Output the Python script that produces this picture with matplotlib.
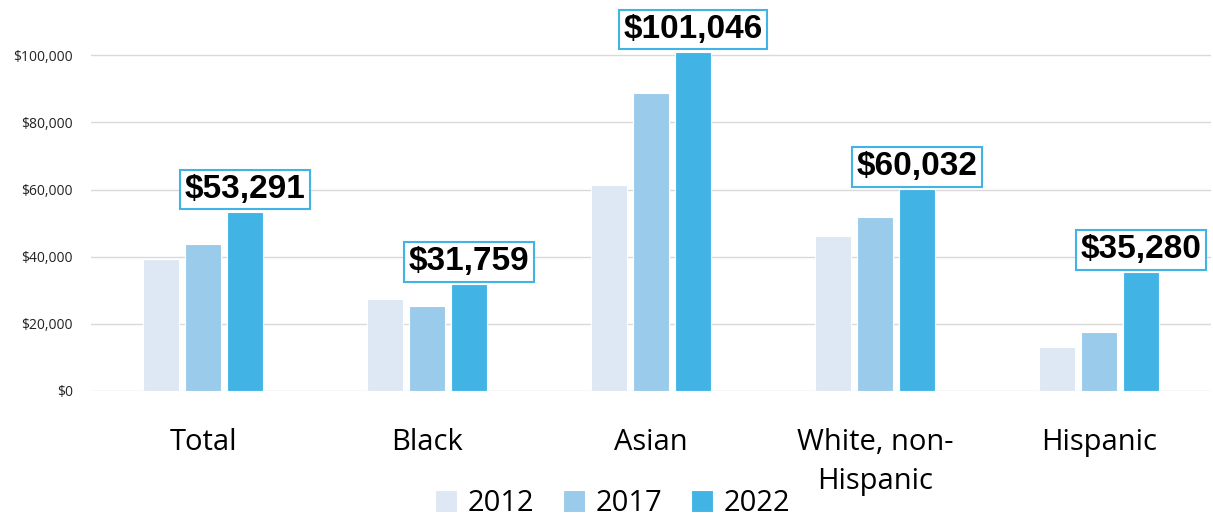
import numpy as np
import matplotlib.pyplot as plt
from matplotlib.ticker import FuncFormatter

categories = ["Total", "Black", "Asian", "White, non-\nHispanic", "Hispanic"]
years = ["2012", "2017", "2022"]
v2012 = [39200, 27500, 61300, 46100, 13000]
v2017 = [43900, 25300, 88800, 51800, 17500]
v2022 = [53291, 31759, 101046, 60032, 35280]
colors = ["#DDE8F4", "#9BCBEA", "#41B4E5"]

fig = plt.figure(figsize=(12.13, 5.21), dpi=100)
ax = fig.add_axes([91 / 1213, 0.25, 1120 / 1213, 0.708])

x = np.arange(len(categories))
w = 0.165
step = 0.1875
for i, (vals, c, yr) in enumerate(zip([v2012, v2017, v2022], colors, years)):
    ax.bar(x + (i - 1) * step, vals, w, color=c, edgecolor="white", linewidth=0.8, label=yr, zorder=3)

for xi, v in zip(x, v2022):
    ax.annotate("${:,}".format(v), xy=(xi + step, v), xytext=(0, 5), textcoords="offset points",
                ha="center", va="bottom", fontsize=24, fontweight="bold", family="Liberation Sans",
                bbox=dict(boxstyle="square,pad=0.13", fc="white", ec="#41B4E5", lw=1.5), zorder=5)

ax.set_xlim(-0.5, len(categories) - 0.5)
ax.set_ylim(0, 110000)
ax.set_yticks(range(0, 100001, 20000))
ax.yaxis.set_major_formatter(FuncFormatter(lambda v, p: "${:,.0f}".format(v)))
ax.grid(axis="y", color="#D9D9D9", linewidth=1, zorder=0)
for s in ax.spines.values():
    s.set_visible(False)
ax.tick_params(axis="y", length=0, labelsize=10, pad=13, labelcolor="#222222")
ax.tick_params(axis="x", length=0, labelsize=21, pad=27)
ax.set_xticks(x)
ax.set_xticklabels(categories, family="Open Sans", linespacing=1.45, va="top")
for t in ax.get_yticklabels():
    t.set_family("Open Sans")

leg = fig.legend(loc="lower center", bbox_to_anchor=(0.505, -0.045), ncol=3, frameon=False,
                 prop={"family": "Open Sans", "size": 21}, handlelength=0.75, handleheight=0.75,
                 handletextpad=0.35, columnspacing=1.0)

fig.savefig("out.png", dpi=100)
